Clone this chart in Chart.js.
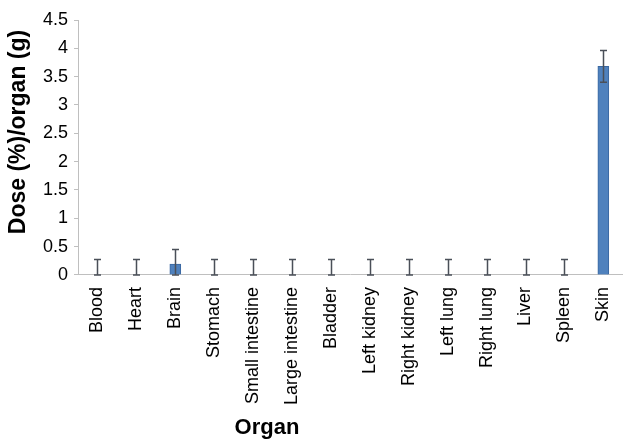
<!DOCTYPE html>
<html>
<head>
<meta charset="utf-8">
<script src="https://cdn.jsdelivr.net/npm/chart.js@4/dist/chart.umd.min.js"></script>
<style>
  html, body { margin: 0; padding: 0; background: #fff; }
  #wrap { width: 629px; height: 441px; position: relative; }
</style>
</head>
<body>
<div id="wrap"><canvas id="chart"></canvas></div>
<script>
var organs = ['Blood', 'Heart', 'Brain', 'Stomach', 'Small intestine', 'Large intestine',
    'Bladder', 'Left kidney', 'Right kidney', 'Left lung', 'Right lung', 'Liver', 'Spleen', 'Skin'];
var doseMean = [0, 0, 0.19, 0, 0, 0, 0, 0, 0, 0, 0, 0, 0, 3.68];
var doseErr = [0.27, 0.27, 0.26, 0.27, 0.27, 0.27, 0.27, 0.27, 0.27, 0.27, 0.27, 0.27, 0.27, 0.28];
var yTicks = [0, 0.5, 1, 1.5, 2, 2.5, 3, 3.5, 4, 4.5];

var fontFamily = '"Liberation Sans", Arial, sans-serif';

// error bars drawn on top of bars, using the y scale
var errorBars = {
    id: 'errorBars',
    afterDatasetsDraw: function(chart) {
        var ctx = chart.ctx;
        var y = chart.scales.y;
        var meta = chart.getDatasetMeta(0);
        ctx.save();
        ctx.strokeStyle = '#4a4f58';
        ctx.lineWidth = 1.5;
        meta.data.forEach(function(bar, i) {
            var v = doseMean[i], e = doseErr[i];
            var top = y.getPixelForValue(v + e);
            var bot = y.getPixelForValue(Math.max(y.min, v - e));
            var x = Math.round(bar.x) + 0.5;
            ctx.beginPath();
            ctx.moveTo(x, top);
            ctx.lineTo(x, bot);
            ctx.moveTo(x - 3.5, top);
            ctx.lineTo(x + 3.5, top);
            ctx.moveTo(x - 3.5, bot);
            ctx.lineTo(x + 3.5, bot);
            ctx.stroke();
        });
        ctx.restore();
    }
};

// axis titles placed where the original has them
var axisTitles = {
    id: 'axisTitles',
    afterDraw: function(chart) {
        var ctx = chart.ctx;
        ctx.save();
        ctx.fillStyle = '#000';
        ctx.font = 'bold 22px ' + fontFamily;
        ctx.textAlign = 'center';
        ctx.textBaseline = 'middle';
        ctx.fillText('Organ', 267, 428);
        ctx.translate(19, 132);
        ctx.rotate(-Math.PI / 2);
        ctx.font = 'bold 23px ' + fontFamily;
        ctx.fillText('Dose (%)/organ (g)', 0, 0);
        ctx.restore();
    }
};

var ctx = document.getElementById('chart').getContext('2d');
var chart = new Chart(ctx, {
    type: 'bar',
    data: {
        labels: organs,
        datasets: [{
            data: doseMean,
            backgroundColor: '#4f81bd',
            borderColor: '#3a67a0',
            borderWidth: 1,
            barThickness: 11
        }]
    },
    options: {
        responsive: true,
        maintainAspectRatio: false,
        animation: false,
        layout: { padding: { left: 37, right: 2, top: 20, bottom: 32 } },
        plugins: { legend: { display: false }, tooltip: { enabled: false } },
        scales: {
            x: {
                grid: { display: false },
                border: { color: '#bfbfbf', width: 1 },
                ticks: {
                    color: '#000',
                    font: { family: fontFamily, size: 18 },
                    minRotation: 90,
                    maxRotation: 90,
                    padding: 4
                }
            },
            y: {
                min: 0,
                max: 4.5,
                grid: { drawOnChartArea: false, color: '#bfbfbf', tickLength: 4 },
                border: { color: '#bfbfbf', width: 1 },
                afterBuildTicks: function(axis) {
                    axis.ticks = yTicks.map(function(v) { return { value: v }; });
                },
                ticks: {
                    color: '#000',
                    font: { family: fontFamily, size: 18 },
                    padding: 6,
                    callback: function(v) { return String(v); }
                }
            }
        }
    },
    plugins: [errorBars, axisTitles]
});
</script>
</body>
</html>
